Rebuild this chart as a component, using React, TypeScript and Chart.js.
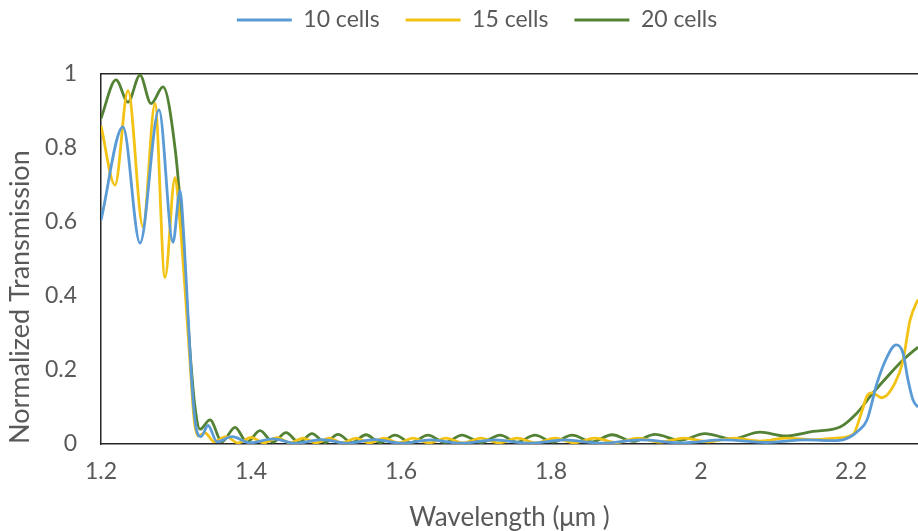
import React, { useEffect, useRef } from 'react';
import { Chart, registerables } from 'chart.js';

Chart.register(...registerables);

// ---- Data ----
const seriesLabels = ['10 cells', '15 cells', '20 cells'];

const wl10 = [1.2, 1.2293, 1.252, 1.2773, 1.296, 1.3053, 1.3107, 1.316, 1.3213, 1.3267, 1.3333, 1.3427, 1.3547, 1.3747, 1.3987, 1.4293, 1.46, 1.4947, 1.528, 1.5653, 1.6, 1.64, 1.68, 1.7253, 1.7707, 1.8187, 1.8667, 1.92, 1.9733, 2.0307, 2.0867, 2.14, 2.18, 2.1987, 2.2093, 2.2213, 2.2347, 2.248, 2.26, 2.2693, 2.276, 2.2827, 2.2893, 2.3];
const t10 = [0.605, 0.857, 0.543, 0.903, 0.545, 0.685, 0.55, 0.35, 0.16, 0.045, 0.02, 0.05, 0.006, 0.02, 0.003, 0.014, 0.002, 0.012, 0.002, 0.012, 0.002, 0.011, 0.002, 0.011, 0.002, 0.011, 0.002, 0.011, 0.003, 0.011, 0.004, 0.011, 0.009, 0.019, 0.035, 0.065, 0.165, 0.235, 0.268, 0.246, 0.173, 0.119, 0.1, 0.09];

const wl15 = [1.2, 1.2187, 1.236, 1.256, 1.272, 1.2853, 1.2987, 1.3053, 1.312, 1.3187, 1.324, 1.3293, 1.3387, 1.3507, 1.3667, 1.3827, 1.4, 1.4173, 1.4347, 1.452, 1.4693, 1.4867, 1.504, 1.5213, 1.54, 1.558, 1.5773, 1.5967, 1.616, 1.6373, 1.66, 1.6827, 1.7067, 1.7307, 1.7547, 1.78, 1.8053, 1.8307, 1.8587, 1.8867, 1.916, 1.9453, 1.9773, 2.0093, 2.044, 2.0787, 2.1147, 2.1493, 2.18, 2.2027, 2.2147, 2.2213, 2.228, 2.2413, 2.2587, 2.2693, 2.2787, 2.2893, 2.3];
const t15 = [0.86, 0.7, 0.955, 0.587, 0.92, 0.45, 0.72, 0.6, 0.42, 0.22, 0.07, 0.022, 0.03, 0.006, 0.02, 0.003, 0.018, 0.003, 0.017, 0.003, 0.016, 0.003, 0.016, 0.003, 0.016, 0.003, 0.016, 0.003, 0.016, 0.003, 0.016, 0.003, 0.016, 0.003, 0.016, 0.003, 0.016, 0.003, 0.016, 0.004, 0.016, 0.005, 0.016, 0.006, 0.016, 0.008, 0.016, 0.012, 0.016, 0.026, 0.09, 0.13, 0.138, 0.125, 0.165, 0.225, 0.335, 0.39, 0.43];

const wl20 = [1.2, 1.22, 1.236, 1.252, 1.2667, 1.2827, 1.2987, 1.3067, 1.312, 1.3187, 1.3253, 1.332, 1.3453, 1.3613, 1.3787, 1.3947, 1.412, 1.4293, 1.4467, 1.464, 1.4813, 1.4987, 1.516, 1.5347, 1.5533, 1.572, 1.592, 1.6133, 1.636, 1.6587, 1.6813, 1.7067, 1.732, 1.7547, 1.7787, 1.8027, 1.828, 1.8547, 1.8813, 1.9093, 1.9387, 1.972, 2.0053, 2.0413, 2.0787, 2.112, 2.1493, 2.1853, 2.208, 2.2293, 2.252, 2.2693, 2.2893, 2.3];
const t20 = [0.88, 0.984, 0.924, 0.997, 0.92, 0.965, 0.8, 0.62, 0.45, 0.25, 0.1, 0.04, 0.065, 0.006, 0.045, 0.005, 0.036, 0.005, 0.031, 0.004, 0.028, 0.004, 0.026, 0.004, 0.025, 0.004, 0.024, 0.004, 0.024, 0.004, 0.024, 0.004, 0.024, 0.005, 0.024, 0.005, 0.024, 0.006, 0.025, 0.007, 0.026, 0.01, 0.028, 0.014, 0.032, 0.022, 0.034, 0.046, 0.084, 0.138, 0.19, 0.227, 0.262, 0.28];

const xTicks = [1.2, 1.4, 1.6, 1.8, 2, 2.2];
const yTicks = [0, 0.2, 0.4, 0.6, 0.8, 1];

const X_MIN = 1.2;
const X_MAX = 2.2893;

const COLORS = ['#5B9BD5', '#F2C314', '#548235'];
const TEXT = '#595959';
const AXIS = '#262626';
const FONT = 'Lato, "Open Sans", sans-serif';

function pts(xs: number[], ys: number[]) {
  return xs.map((x, i) => ({ x, y: ys[i] }));
}

const fmt = (v: any) => String(+Number(v).toFixed(2));

export default function App() {
  const ref = useRef<HTMLCanvasElement | null>(null);

  useEffect(() => {
    if (!ref.current) return;
    const series = [pts(wl10, t10), pts(wl15, t15), pts(wl20, t20)];
    const chart = new Chart(ref.current, {
      type: 'line',
      data: {
        datasets: series.map((d, i) => ({
          label: seriesLabels[i],
          data: d,
          borderColor: COLORS[i],
          backgroundColor: COLORS[i],
          borderWidth: 2.8,
          pointRadius: 0,
          fill: false,
          cubicInterpolationMode: 'monotone' as const,
        })),
      },
      options: {
        responsive: false,
        animation: false,
        layout: { padding: { top: -17.5, left: 36, right: 0, bottom: 0 } },
        plugins: {
          tooltip: { enabled: false },
          legend: {
            position: 'top',
            align: 'center',
            labels: {
              usePointStyle: true,
              pointStyle: 'line',
              pointStyleWidth: 55,
              padding: 26,
              color: TEXT,
              font: { family: FONT, size: 23 },
            },
          },
        },
        scales: {
          x: {
            type: 'linear',
            min: X_MIN,
            max: X_MAX,
            afterBuildTicks: (s: any) => {
              s.ticks = xTicks.map((v) => ({ value: v }));
            },
            afterFit: (s: any) => {
              s.height = 87;
            },
            grid: { display: false, drawTicks: false },
            border: { display: true, color: AXIS, width: 1.5 },
            ticks: {
              color: TEXT,
              font: { family: FONT, size: 23 },
              padding: 14,
              maxRotation: 0,
              autoSkip: false,
              callback: fmt,
            },
            title: {
              display: true,
              text: 'Wavelength (μm )',
              color: TEXT,
              font: { family: FONT, size: 26 },
              padding: { top: 0, bottom: -2.5 },
            },
          },
          x2: {
            type: 'linear',
            position: 'top',
            afterFit: (s: any) => {
              s.height = 32.5;
            },
            grid: { display: false, drawTicks: false },
            border: { display: true, color: AXIS, width: 1.5 },
            ticks: { display: false },
          },
          y: {
            type: 'linear',
            min: 0,
            max: 1,
            afterBuildTicks: (s: any) => {
              s.ticks = yTicks.map((v) => ({ value: v }));
            },
            afterFit: (s: any) => {
              s.width = 65;
            },
            grid: { display: false, drawTicks: false },
            border: { display: true, color: AXIS, width: 1.5 },
            ticks: {
              color: TEXT,
              font: { family: FONT, size: 23 },
              padding: 24,
              callback: fmt,
            },
            title: {
              display: true,
              text: 'Normalized Transmission',
              align: 'start',
              color: TEXT,
              font: { family: FONT, size: 27 },
              padding: { top: -32, bottom: 0 },
            },
          },
        },
      },
    });
    return () => chart.destroy();
  }, []);

  return (
    <div style={{ position: 'fixed', left: 0, top: 0, width: 918, height: 531, background: '#ffffff' }}>
      <canvas ref={ref} width={918} height={531} style={{ display: 'block' }} />
    </div>
  );
}
